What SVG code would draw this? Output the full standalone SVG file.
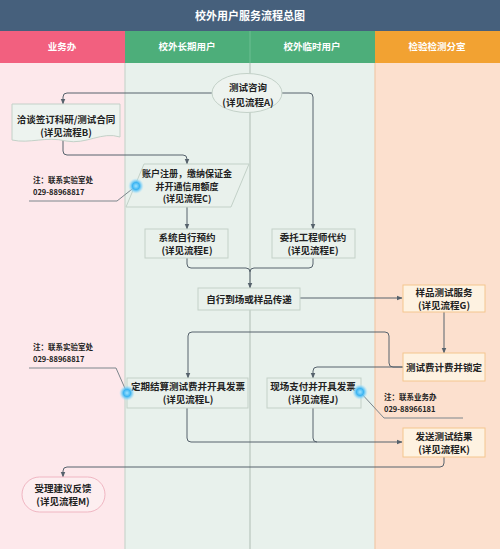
<svg xmlns="http://www.w3.org/2000/svg" width="500" height="549" viewBox="0 0 500 549">
<defs>
<marker id="arr" viewBox="0 0 10 10" refX="9" refY="5" markerWidth="6" markerHeight="6" orient="auto" markerUnits="userSpaceOnUse">
<path d="M0,1 L10,5 L0,9 Z" fill="#56626C"/>
</marker>
<radialGradient id="dot" cx="50%" cy="50%" r="50%">
<stop offset="0" stop-color="#9FE3FF"/>
<stop offset="0.45" stop-color="#3BB4F2"/>
<stop offset="0.7" stop-color="#7FD0F6" stop-opacity="0.7"/>
<stop offset="1" stop-color="#BFE8FA" stop-opacity="0"/>
</radialGradient>
<style>
.t{font-family:"Noto Sans CJK SC","Liberation Sans",sans-serif;font-weight:bold;text-anchor:middle;}
.hd{font-size:9.5px;fill:#FFFFFF;}
.nt{font-size:9.5px;fill:#222222;}
.sm{font-size:9px;}
.note{font-family:"Noto Sans CJK SC","Liberation Sans",sans-serif;font-weight:bold;font-size:7.5px;fill:#222222;}
.gbox{fill:#E9F1EC;stroke:#C3D1C8;stroke-width:1;}
.obox{fill:#FEF2E1;stroke:#F4C68E;stroke-width:1;}
.conn path{fill:none;stroke:#56626C;stroke-width:1;}
.nl{fill:none;stroke:#7C868C;stroke-width:1;}
</style>
</defs>
<!-- backgrounds -->
<rect x="0" y="0" width="500" height="31" fill="#46607C"/>
<text class="t" x="250" y="20" font-size="11px" fill="#FFFFFF">校外用户服务流程总图</text>
<rect x="0" y="31" width="125" height="32" fill="#F2607F"/>
<rect x="125" y="31" width="250" height="32" fill="#4DAE7A"/>
<rect x="375" y="31" width="125" height="32" fill="#F2A232"/>
<line x1="250" y1="31" x2="250" y2="63" stroke="#6DBE92" stroke-width="1"/>
<text class="t hd" x="62" y="50">业务办</text>
<text class="t hd" x="187" y="50">校外长期用户</text>
<text class="t hd" x="312" y="50">校外临时用户</text>
<text class="t hd" x="437" y="50">检验检测分室</text>
<rect x="0" y="63" width="125" height="486" fill="#FDE8EB"/>
<rect x="125" y="63" width="250" height="486" fill="#E8F1EC"/>
<rect x="375" y="63" width="125" height="486" fill="#FCE0CE"/>
<line x1="125" y1="63" x2="125" y2="549" stroke="#C9D6CD" stroke-width="1.2"/>
<line x1="250" y1="63" x2="250" y2="549" stroke="#AFBDB4" stroke-width="1"/>
<line x1="375" y1="63" x2="375" y2="549" stroke="#F0C8A8" stroke-width="1.2"/>

<!-- connectors -->
<g id="connectors" class="conn">
<path d="M212,93 H67 Q63,93 63,97 V104" marker-end="url(#arr)"/>
<path d="M282,93 H309 Q313,93 313,97 V229" marker-end="url(#arr)"/>
<path d="M63,140 V151 Q63,155 67,155 H183 Q187,155 187,159 V164" marker-end="url(#arr)"/>
<path d="M187,207 V229" marker-end="url(#arr)"/>
<path d="M187,258 V264 Q187,268 191,268 H246 Q250,268 250,272 V288" marker-end="url(#arr)"/>
<path d="M313,258 V264 Q313,268 309,268 H254 Q250,268 250,272"/>
<path d="M300,298 H402" marker-end="url(#arr)"/>
<path d="M444,312 V353" marker-end="url(#arr)"/>
<path d="M403,367 H393 Q389,367 389,363 V336 Q389,332 385,332 H192 Q188,332 188,336 V378" marker-end="url(#arr)"/>
<path d="M403,367 H317 Q313,367 313,371 V378" marker-end="url(#arr)"/>
<path d="M187,408 V438 Q187,442 191,442 H402" marker-end="url(#arr)"/>
<path d="M313,408 V438 Q313,442 317,442"/>
<path d="M444,457 V463 Q444,467 440,467 H67 Q63,467 63,471 V477" marker-end="url(#arr)"/>
</g>

<!-- nodes -->
<g id="nodeA">
<ellipse cx="247" cy="93" rx="35" ry="19.5" fill="#EDF3EF" stroke="#C3D1C8" stroke-width="1"/>
<text class="t nt" x="248" y="91">测试咨询</text>
<text class="t nt" x="248" y="106">(详见流程A)</text>
</g>
<g id="nodeB">
<path d="M12,104 H120 V137 C102,131 86,145 66,141 C46,136 30,144 12,140 Z" fill="#EDF3EF" stroke="#C3D1C8" stroke-width="1"/>
<text class="t nt" x="66" y="123">洽谈签订科研/测试合同</text>
<text class="t nt" x="66" y="136">(详见流程B)</text>
</g>
<g id="nodeC">
<polygon points="144,164 249,164 231,207 126,207" fill="#E9F1EC" stroke="#C3D1C8" stroke-width="1"/>
<text class="t nt sm" x="187" y="177">账户注册，缴纳保证金</text>
<text class="t nt sm" x="187" y="189.5">并开通信用额度</text>
<text class="t nt sm" x="187" y="202">(详见流程C)</text>
</g>
<g id="nodeE1">
<rect class="gbox" x="145" y="229" width="83" height="29"/>
<text class="t nt" x="187" y="241">系统自行预约</text>
<text class="t nt" x="187" y="254">(详见流程E)</text>
</g>
<g id="nodeE2">
<rect class="gbox" x="272" y="229" width="83" height="29"/>
<text class="t nt" x="313" y="241">委托工程师代约</text>
<text class="t nt" x="313" y="254">(详见流程E)</text>
</g>
<g id="nodeD">
<rect class="gbox" x="198" y="288" width="102" height="22"/>
<text class="t nt" x="249" y="302.5">自行到场或样品传递</text>
</g>
<g id="nodeG">
<rect class="obox" x="403" y="285" width="82" height="27"/>
<text class="t nt" x="444" y="296">样品测试服务</text>
<text class="t nt" x="444" y="309">(详见流程G)</text>
</g>
<g id="nodeH">
<rect class="obox" x="403" y="353" width="82" height="28"/>
<text class="t nt" x="444" y="371">测试费计费并锁定</text>
</g>
<g id="nodeL">
<rect class="gbox" x="127" y="378" width="121" height="30"/>
<text class="t nt" x="188" y="390">定期结算测试费并开具发票</text>
<text class="t nt" x="188" y="403">(详见流程L)</text>
</g>
<g id="nodeJ">
<rect class="gbox" x="267" y="378" width="94" height="30"/>
<text class="t nt" x="313" y="390">现场支付并开具发票</text>
<text class="t nt" x="313" y="403">(详见流程J)</text>
</g>
<g id="nodeK">
<rect class="obox" x="403" y="428" width="82" height="29"/>
<text class="t nt" x="444" y="439.5">发送测试结果</text>
<text class="t nt" x="444" y="453">(详见流程K)</text>
</g>
<g id="nodeM">
<rect x="22" y="477" width="83" height="35" rx="17.5" ry="17.5" fill="#FDEEF0" stroke="#F0B6C2" stroke-width="1"/>
<text class="t nt" x="63" y="491.5">受理建议反馈</text>
<text class="t nt" x="63" y="504.5">(详见流程M)</text>
</g>

<!-- notes -->
<g id="note1">
<path class="nl" d="M29,201 H117 L136,186"/>
<circle cx="136" cy="186" r="8" fill="url(#dot)"/>
<text class="note" x="33" y="183">注：联系实验室处</text>
<text class="note" x="33" y="195" font-size="8.5px">029-88968817</text>
</g>
<g id="note2">
<path class="nl" d="M29,368 H116 L127,393"/>
<circle cx="127" cy="393" r="8" fill="url(#dot)"/>
<text class="note" x="33" y="350">注：联系实验室处</text>
<text class="note" x="33" y="362" font-size="8.5px">029-88968817</text>
</g>
<g id="note3">
<path class="nl" d="M360,392 L384,418 H463"/>
<circle cx="360" cy="392" r="8" fill="url(#dot)"/>
<text class="note" x="384" y="400">注：联系业务办</text>
<text class="note" x="384" y="412" font-size="8.5px">029-88966181</text>
</g>
</svg>
